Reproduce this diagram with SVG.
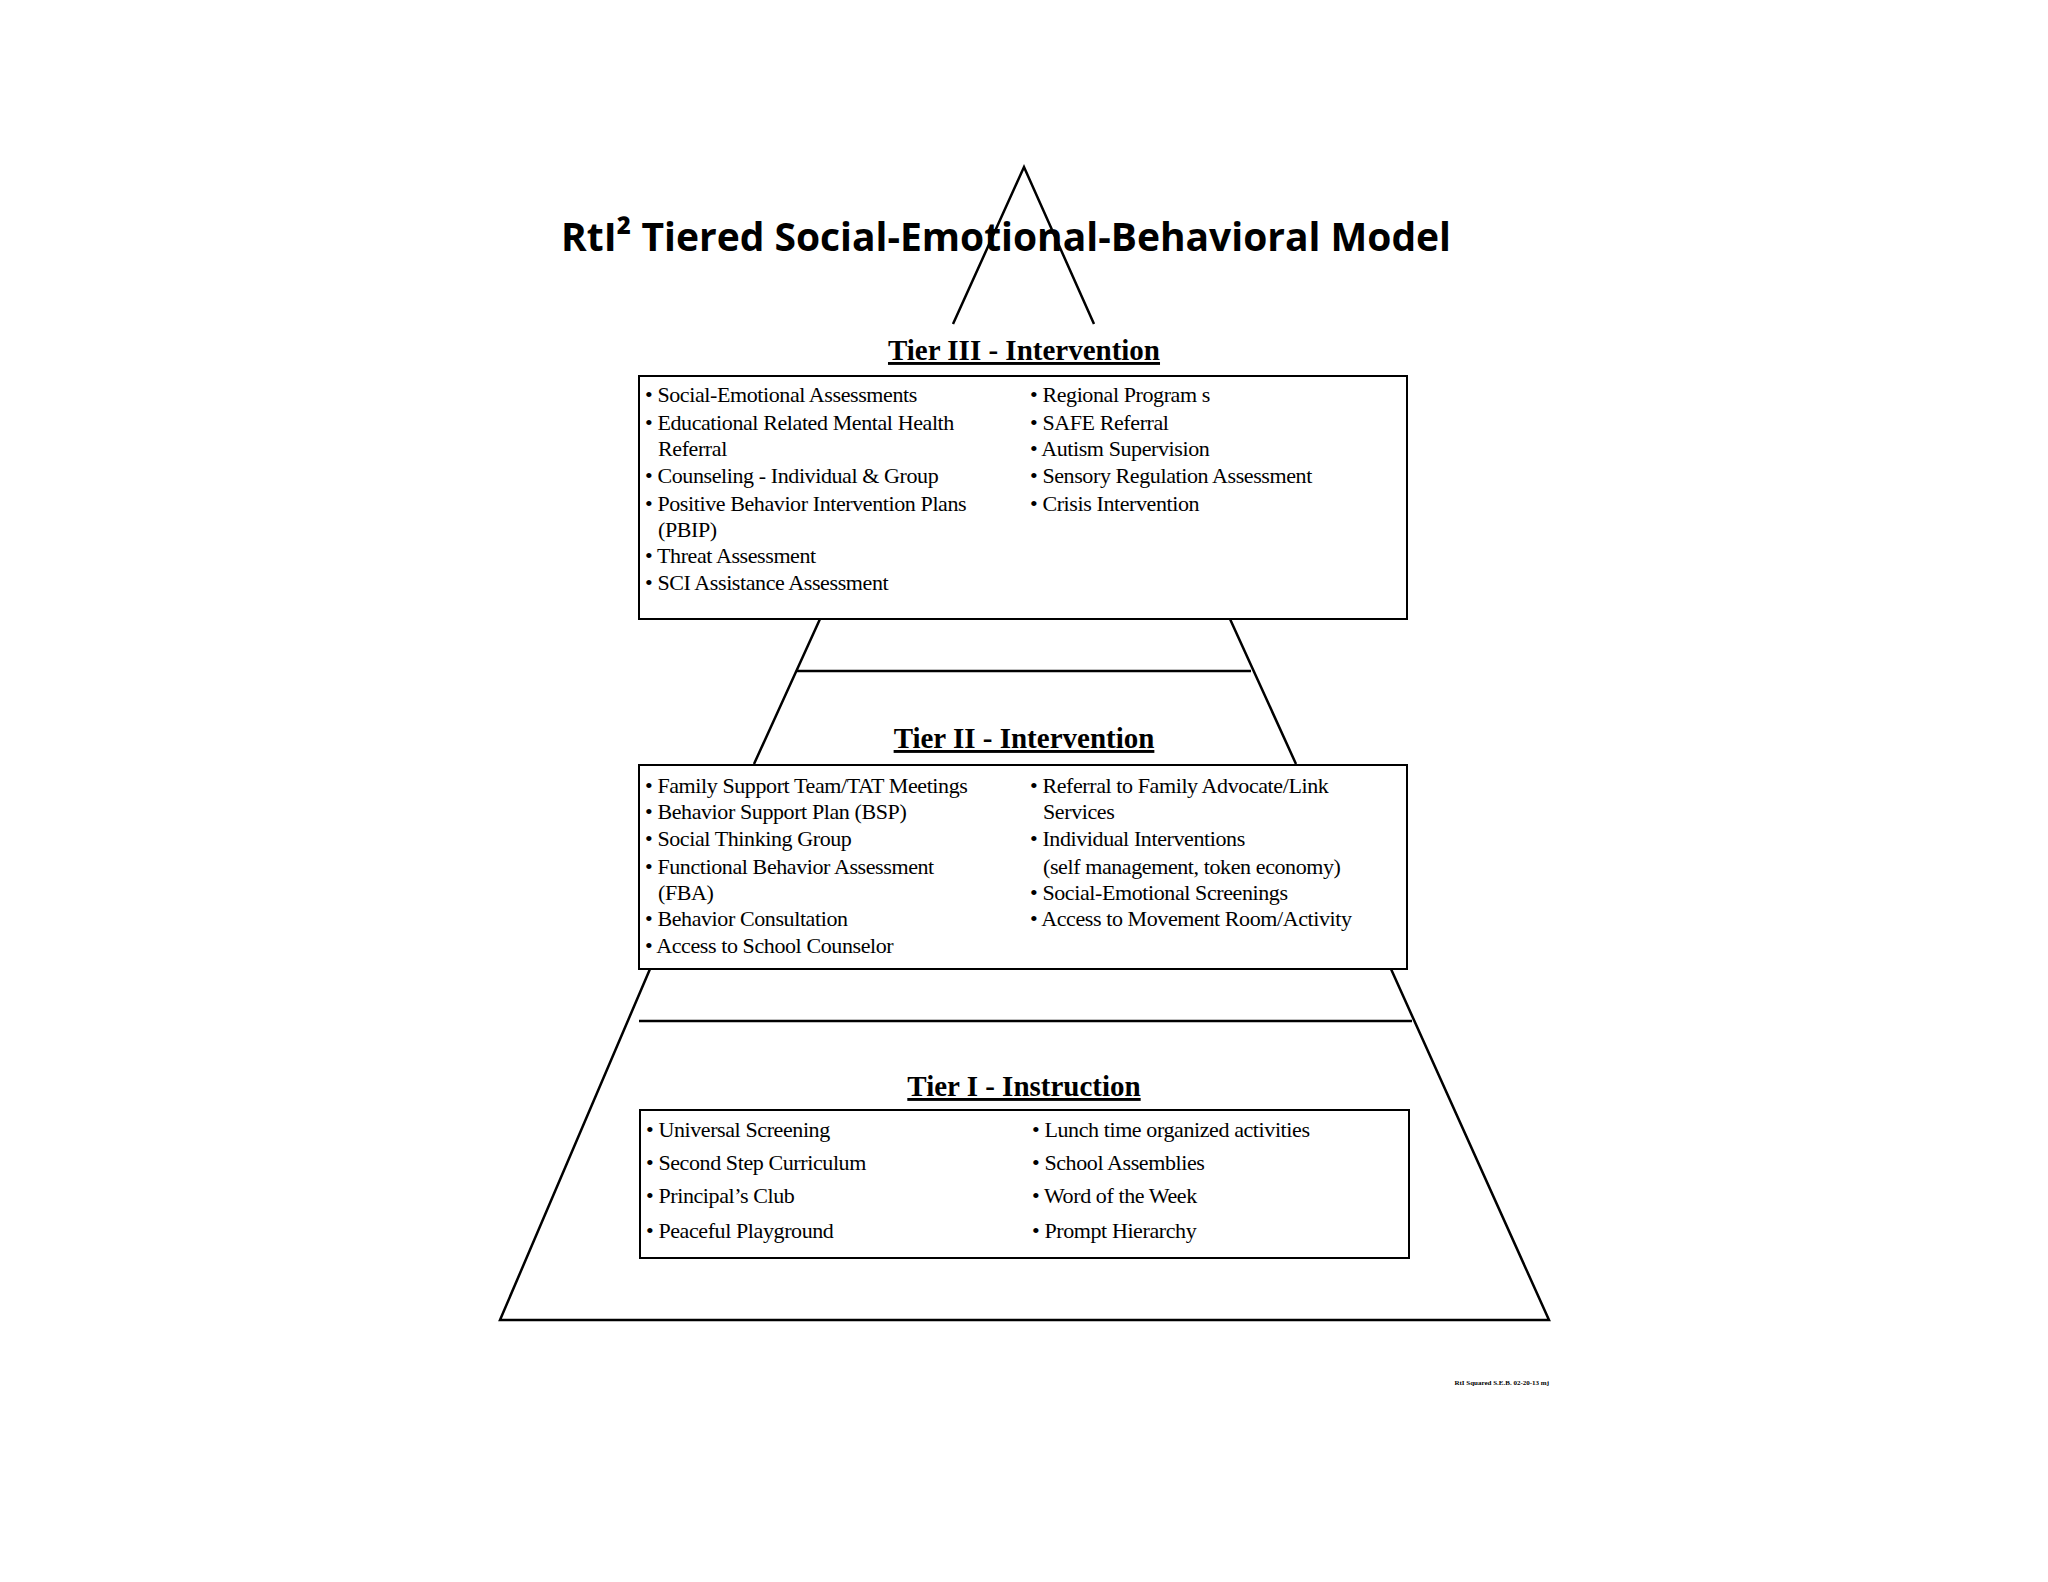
<svg xmlns="http://www.w3.org/2000/svg" width="2048" height="1582" viewBox="0 0 2048 1582">
<style>
.ln{stroke:#000;stroke-width:2.5;fill:none}
.box{fill:#fff;stroke:#000;stroke-width:2}
.h{font-family:"Liberation Serif",serif;font-weight:bold;font-size:29px;text-anchor:middle;text-decoration:underline}
.t{font-family:"Liberation Serif",serif;font-size:22px;letter-spacing:-0.4px}
</style>
<rect width="2048" height="1582" fill="#fff"/>
<g id="connectors">
<path class="ln" d="M953,324 L1024,167 L1094,324"/>
<path class="ln" d="M820,619 L754,764 M1230,619 L1296,764 M797,671 L1251,671"/>
<path class="ln" d="M650,969 L500,1320 L1549,1320 L1391,969 M639,1021 L1412,1021"/>
</g>
<g id="title"><text x="1006" y="251" font-family="'Open Sans','Liberation Sans',sans-serif" font-weight="bold" font-size="40" text-anchor="middle" textLength="890" lengthAdjust="spacingAndGlyphs">RtI² Tiered Social-Emotional-Behavioral Model</text></g>
<g id="tier3">
<text class="h" x="1024" y="360">Tier III - Intervention</text>
<rect class="box" x="639" y="376" width="768" height="243"/>
<g class="t">
<text x="645" y="402">• Social-Emotional Assessments</text>
<text x="645" y="430">• Educational Related Mental Health</text>
<text x="658" y="456">Referral</text>
<text x="645" y="483">• Counseling - Individual &amp; Group</text>
<text x="645" y="511">• Positive Behavior Intervention Plans</text>
<text x="658" y="537">(PBIP)</text>
<text x="645" y="563">• Threat Assessment</text>
<text x="645" y="590">• SCI Assistance Assessment</text>
<text x="1030" y="402">• Regional Program s</text>
<text x="1030" y="430">• SAFE Referral</text>
<text x="1030" y="456">• Autism Supervision</text>
<text x="1030" y="483">• Sensory Regulation Assessment</text>
<text x="1030" y="511">• Crisis Intervention</text>
</g>
</g>
<g id="tier2">
<text class="h" x="1024" y="748">Tier II - Intervention</text>
<rect class="box" x="639" y="765" width="768" height="204"/>
<g class="t">
<text x="645" y="793">• Family Support Team/TAT Meetings</text>
<text x="645" y="819">• Behavior Support Plan (BSP)</text>
<text x="645" y="846">• Social Thinking Group</text>
<text x="645" y="874">• Functional Behavior Assessment</text>
<text x="658" y="900">(FBA)</text>
<text x="645" y="926">• Behavior Consultation</text>
<text x="645" y="953">• Access to School Counselor</text>
<text x="1030" y="793">• Referral to Family Advocate/Link</text>
<text x="1043" y="819">Services</text>
<text x="1030" y="846">• Individual Interventions</text>
<text x="1043" y="874">(self management, token economy)</text>
<text x="1030" y="900">• Social-Emotional Screenings</text>
<text x="1030" y="926">• Access to Movement Room/Activity</text>
</g>
</g>
<g id="tier1">
<text class="h" x="1024" y="1096">Tier I - Instruction</text>
<rect class="box" x="640" y="1110" width="769" height="148"/>
<g class="t">
<text x="646" y="1137">• Universal Screening</text>
<text x="646" y="1170">• Second Step Curriculum</text>
<text x="646" y="1203">• Principal’s Club</text>
<text x="646" y="1238">• Peaceful Playground</text>
<text x="1032" y="1137">• Lunch time organized activities</text>
<text x="1032" y="1170">• School Assemblies</text>
<text x="1032" y="1203">• Word of the Week</text>
<text x="1032" y="1238">• Prompt Hierarchy</text>
</g>
</g>
<g id="footer"><text x="1549" y="1385" text-anchor="end" font-family="'Liberation Serif',serif" font-weight="bold" font-size="7">RtI Squared S.E.B. 02-20-13 mj</text></g>
</svg>
